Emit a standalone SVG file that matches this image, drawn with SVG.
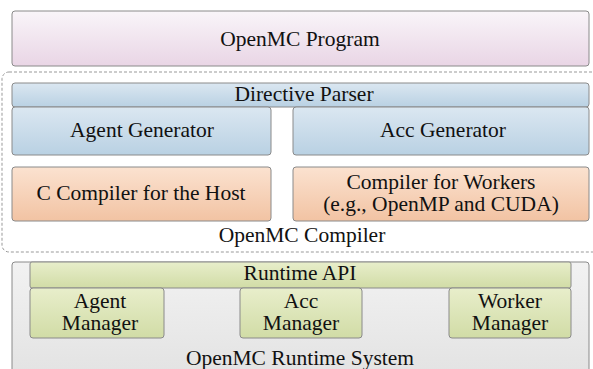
<svg xmlns="http://www.w3.org/2000/svg" width="593" height="369" viewBox="0 0 593 369">
<defs>
<linearGradient id="gPink" x1="0" y1="0" x2="0" y2="1"><stop offset="0" stop-color="#f9f5f9"/><stop offset="1" stop-color="#e9d5e5"/></linearGradient>
<linearGradient id="gBlue" x1="0" y1="0" x2="0" y2="1"><stop offset="0" stop-color="#dbe7f1"/><stop offset="1" stop-color="#b9d1e3"/></linearGradient>
<linearGradient id="gOrange" x1="0" y1="0" x2="0" y2="1"><stop offset="0" stop-color="#fbe2d0"/><stop offset="1" stop-color="#f2c3a3"/></linearGradient>
<linearGradient id="gGreen" x1="0" y1="0" x2="0" y2="1"><stop offset="0" stop-color="#e8eecb"/><stop offset="1" stop-color="#d1dca6"/></linearGradient>
<linearGradient id="gGray" x1="0" y1="0" x2="0" y2="1"><stop offset="0" stop-color="#f2f2f2"/><stop offset="1" stop-color="#e2e2e2"/></linearGradient>
</defs>
<style>
.b{stroke:#8a8a8a;stroke-width:1}
.t{font-family:"Liberation Serif","Times New Roman",serif;font-size:21.5px;fill:#111;text-anchor:middle}
</style>
<rect width="593" height="369" fill="#fff"/>
<g id="program"><rect class="b" x="12" y="11" width="577" height="55" rx="3" fill="url(#gPink)"/><text class="t" x="300" y="46">OpenMC Program</text></g>
<g id="compiler"><rect x="2" y="72" width="620" height="180" rx="7" fill="none" stroke="#999" stroke-width="1" stroke-dasharray="3,2"/><text class="t" x="302" y="242">OpenMC Compiler</text></g>
<g id="directive-parser"><rect class="b" x="12" y="83" width="577" height="24" rx="3" fill="url(#gBlue)"/><text class="t" x="304" y="101">Directive Parser</text></g>
<g id="agent-generator"><rect class="b" x="12" y="107" width="259" height="48" rx="3" fill="url(#gBlue)"/><text class="t" x="142" y="137">Agent Generator</text></g>
<g id="acc-generator"><rect class="b" x="293" y="107" width="296" height="48" rx="3" fill="url(#gBlue)"/><text class="t" x="443" y="137">Acc Generator</text></g>
<g id="c-compiler"><rect class="b" x="12" y="167" width="259" height="54" rx="3" fill="url(#gOrange)"/><text class="t" x="141" y="200">C Compiler for the Host</text></g>
<g id="worker-compiler"><rect class="b" x="293" y="167" width="296" height="54" rx="3" fill="url(#gOrange)"/><text class="t" x="441" y="189">Compiler for Workers</text><text class="t" x="441" y="211">(e.g., OpenMP and CUDA)</text></g>
<g id="runtime"><rect class="b" x="12" y="262" width="577" height="120" rx="3" fill="url(#gGray)"/><text class="t" x="300" y="365">OpenMC Runtime System</text></g>
<g id="runtime-api"><rect class="b" x="30" y="262" width="541" height="26" rx="2" fill="url(#gGreen)"/><text class="t" x="300" y="280">Runtime API</text></g>
<g id="agent-manager"><rect class="b" x="30" y="288" width="134" height="50" rx="3" fill="url(#gGreen)"/><text class="t" x="100" y="308">Agent</text><text class="t" x="100" y="330">Manager</text></g>
<g id="acc-manager"><rect class="b" x="240" y="288" width="122" height="50" rx="3" fill="url(#gGreen)"/><text class="t" x="301" y="308">Acc</text><text class="t" x="301" y="330">Manager</text></g>
<g id="worker-manager"><rect class="b" x="449" y="288" width="122" height="50" rx="3" fill="url(#gGreen)"/><text class="t" x="510" y="308">Worker</text><text class="t" x="510" y="330">Manager</text></g>
<g id="connectors"></g>
</svg>
